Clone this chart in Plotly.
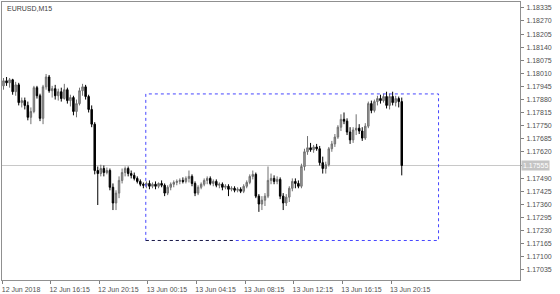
import plotly.graph_objects as go

# ---- data (EURUSD M15) ----
opens = [1.17948, 1.17973, 1.17963, 1.17978, 1.17919, 1.17953, 1.17865, 1.17875, 1.17851, 1.17792,
         1.17821, 1.17939, 1.17899, 1.17787, 1.17943, 1.17992, 1.17924, 1.17934, 1.17899, 1.17919,
         1.17885, 1.17929, 1.17875, 1.17890, 1.17821, 1.17860, 1.17924, 1.17943, 1.17895, 1.17831,
         1.17758, 1.17528, 1.17513, 1.17538, 1.17518, 1.17528, 1.17445, 1.17367, 1.17416, 1.17479,
         1.17518, 1.17538, 1.17513, 1.17504, 1.17489, 1.17474, 1.17460, 1.17455, 1.17464, 1.17450,
         1.17460, 1.17450, 1.17464, 1.17455, 1.17416, 1.17445, 1.17460, 1.17469, 1.17474, 1.17479,
         1.17474, 1.17489, 1.17499, 1.17464, 1.17416, 1.17445, 1.17460, 1.17479, 1.17489, 1.17464,
         1.17474, 1.17455, 1.17460, 1.17445, 1.17450, 1.17435, 1.17440, 1.17430, 1.17435, 1.17425,
         1.17450, 1.17469, 1.17499, 1.17509, 1.17401, 1.17362, 1.17381, 1.17401, 1.17479, 1.17489,
         1.17474, 1.17484, 1.17401, 1.17367, 1.17396, 1.17440, 1.17474, 1.17464, 1.17450, 1.17548,
         1.17621, 1.17641, 1.17631, 1.17645, 1.17636, 1.17567, 1.17538, 1.17557, 1.17636, 1.17660,
         1.17694, 1.17743, 1.17782, 1.17773, 1.17719, 1.17680, 1.17729, 1.17738, 1.17724, 1.17689,
         1.17748, 1.17860, 1.17826, 1.17870, 1.17885, 1.17875, 1.17895, 1.17851, 1.17895, 1.17865,
         1.17885, 1.17870]
highs = [1.17987, 1.17992, 1.17987, 1.17983, 1.17968, 1.17963, 1.17890, 1.17890, 1.17870, 1.17841,
         1.17948, 1.17948, 1.17909, 1.17953, 1.18007, 1.18002, 1.17948, 1.17953, 1.17934, 1.17939,
         1.17958, 1.17939, 1.17904, 1.17899, 1.17880, 1.17939, 1.17958, 1.17953, 1.17904, 1.17851,
         1.17768, 1.17548, 1.17557, 1.17553, 1.17543, 1.17538, 1.17464, 1.17430, 1.17499, 1.17538,
         1.17548, 1.17548, 1.17528, 1.17518, 1.17499, 1.17484, 1.17469, 1.17474, 1.17479, 1.17469,
         1.17474, 1.17469, 1.17479, 1.17464, 1.17455, 1.17469, 1.17479, 1.17484, 1.17489, 1.17494,
         1.17499, 1.17528, 1.17509, 1.17474, 1.17455, 1.17469, 1.17489, 1.17499, 1.17499, 1.17484,
         1.17484, 1.17469, 1.17469, 1.17460, 1.17460, 1.17450, 1.17450, 1.17445, 1.17445, 1.17460,
         1.17479, 1.17509, 1.17528, 1.17518, 1.17411, 1.17401, 1.17416, 1.17548, 1.17513, 1.17504,
         1.17499, 1.17494, 1.17416, 1.17411, 1.17450, 1.17489, 1.17489, 1.17479, 1.17562, 1.17636,
         1.17699, 1.17665, 1.17655, 1.17660, 1.17650, 1.17597, 1.17572, 1.17645, 1.17675, 1.17709,
         1.17753, 1.17807, 1.17816, 1.17787, 1.17743, 1.17743, 1.17807, 1.17758, 1.17743, 1.17763,
         1.17870, 1.17875, 1.17880, 1.17899, 1.17904, 1.17909, 1.17919, 1.17909, 1.17919, 1.17899,
         1.17895, 1.17890]
lows = [1.17929, 1.17948, 1.17939, 1.17904, 1.17899, 1.17851, 1.17841, 1.17831, 1.17777, 1.17758,
        1.17812, 1.17885, 1.17773, 1.17758, 1.17929, 1.17914, 1.17890, 1.17880, 1.17875, 1.17870,
        1.17880, 1.17860, 1.17846, 1.17802, 1.17792, 1.17851, 1.17899, 1.17880, 1.17816, 1.17743,
        1.17509, 1.17357, 1.17499, 1.17499, 1.17509, 1.17430, 1.17332, 1.17332, 1.17391, 1.17464,
        1.17499, 1.17499, 1.17489, 1.17479, 1.17464, 1.17450, 1.17440, 1.17440, 1.17435, 1.17440,
        1.17435, 1.17440, 1.17445, 1.17401, 1.17406, 1.17430, 1.17445, 1.17455, 1.17460, 1.17464,
        1.17464, 1.17469, 1.17450, 1.17401, 1.17406, 1.17435, 1.17450, 1.17460, 1.17455, 1.17450,
        1.17445, 1.17440, 1.17430, 1.17435, 1.17401, 1.17425, 1.17420, 1.17420, 1.17416, 1.17416,
        1.17440, 1.17460, 1.17484, 1.17391, 1.17323, 1.17332, 1.17352, 1.17391, 1.17460, 1.17460,
        1.17460, 1.17386, 1.17332, 1.17352, 1.17372, 1.17425, 1.17440, 1.17440, 1.17440, 1.17528,
        1.17606, 1.17621, 1.17616, 1.17626, 1.17553, 1.17513, 1.17513, 1.17548, 1.17621, 1.17645,
        1.17685, 1.17724, 1.17758, 1.17704, 1.17660, 1.17665, 1.17704, 1.17709, 1.17675, 1.17680,
        1.17738, 1.17812, 1.17816, 1.17851, 1.17860, 1.17865, 1.17836, 1.17831, 1.17851, 1.17846,
        1.17841, 1.17504]
closes = [1.17973, 1.17963, 1.17978, 1.17919, 1.17953, 1.17865, 1.17875, 1.17851, 1.17792, 1.17821,
          1.17939, 1.17899, 1.17787, 1.17943, 1.17992, 1.17924, 1.17934, 1.17899, 1.17919, 1.17885,
          1.17929, 1.17875, 1.17890, 1.17821, 1.17860, 1.17924, 1.17943, 1.17895, 1.17831, 1.17758,
          1.17528, 1.17513, 1.17538, 1.17518, 1.17528, 1.17445, 1.17367, 1.17416, 1.17479, 1.17518,
          1.17538, 1.17513, 1.17504, 1.17489, 1.17474, 1.17460, 1.17455, 1.17464, 1.17450, 1.17460,
          1.17450, 1.17464, 1.17455, 1.17416, 1.17445, 1.17460, 1.17469, 1.17474, 1.17479, 1.17474,
          1.17489, 1.17499, 1.17464, 1.17416, 1.17445, 1.17460, 1.17479, 1.17489, 1.17464, 1.17474,
          1.17455, 1.17460, 1.17445, 1.17450, 1.17435, 1.17440, 1.17430, 1.17435, 1.17425, 1.17450,
          1.17469, 1.17499, 1.17509, 1.17401, 1.17362, 1.17381, 1.17401, 1.17479, 1.17489, 1.17474,
          1.17484, 1.17401, 1.17367, 1.17396, 1.17440, 1.17474, 1.17464, 1.17450, 1.17548, 1.17621,
          1.17641, 1.17631, 1.17645, 1.17636, 1.17567, 1.17538, 1.17557, 1.17636, 1.17660, 1.17694,
          1.17743, 1.17782, 1.17773, 1.17719, 1.17680, 1.17729, 1.17738, 1.17724, 1.17689, 1.17748,
          1.17860, 1.17826, 1.17870, 1.17885, 1.17875, 1.17895, 1.17851, 1.17895, 1.17865, 1.17885,
          1.17870, 1.17553]
bar_index = list(range(len(closes)))

time_tick_bars = [0, 16, 32, 48, 64, 80, 96, 112, 128]
time_tick_labels = ["12 Jun 2018", "12 Jun 16:15", "12 Jun 20:15", "13 Jun 00:15", "13 Jun 04:15",
                    "13 Jun 08:15", "13 Jun 12:15", "13 Jun 16:15", "13 Jun 20:15"]
price_ticks = [1.18335, 1.18270, 1.18205, 1.18140, 1.18075, 1.18010, 1.17945, 1.17880, 1.17815,
               1.17750, 1.17685, 1.17620, 1.17555, 1.17490, 1.17425, 1.17360, 1.17295, 1.17230,
               1.17165, 1.17100, 1.17035]
current_price = 1.17553
current_price_label = "1.17555"
rect_bars = [46.8, 143.1]
rect_prices = [1.17181, 1.17908]
rect_dark_bottom_end = 76.2
symbol_title = "EURUSD,M15"

# ---- figure ----
FONT = "Liberation Sans"
fig = go.Figure()
fig.add_trace(go.Candlestick(
    x=bar_index, open=opens, high=highs, low=lows, close=closes,
    increasing=dict(line=dict(color="#707070", width=1), fillcolor="#a0a0a0"),
    decreasing=dict(line=dict(color="#000000", width=1), fillcolor="#000000"),
    whiskerwidth=0, showlegend=False, hoverinfo="skip",
))

shapes = [
    dict(type="line", xref="paper", x0=0, x1=1, yref="y", y0=current_price, y1=current_price,
         line=dict(color="#c8c8c8", width=1), layer="below"),
    dict(type="rect", xref="x", yref="y", x0=rect_bars[0], x1=rect_bars[1],
         y0=rect_prices[0], y1=rect_prices[1],
         line=dict(color="rgb(70,70,255)", width=1, dash="dot")),
    dict(type="line", xref="x", yref="y", x0=rect_bars[0], x1=rect_dark_bottom_end,
         y0=rect_prices[0], y1=rect_prices[0],
         line=dict(color="#202040", width=1, dash="dot")),
]

annotations = [
    dict(text=symbol_title, xref="paper", yref="paper", x=0, y=1, xanchor="left", yanchor="top",
         xshift=3, yshift=-1, showarrow=False, font=dict(family=FONT, size=7, color="#404040")),
    dict(text=current_price_label, xref="paper", yref="y", x=1, y=current_price,
         xanchor="left", yanchor="middle", showarrow=False, bgcolor="#c4c4c4",
         borderpad=1, xshift=1, font=dict(family=FONT, size=7, color="#ffffff")),
]

# the price tag covers the regular tick label at the current price level
y_ticktext = ["" if abs(p - current_price) < 0.0003 else f"{p:.5f}" for p in price_ticks]

fig.update_layout(
    width=560, height=294,
    margin=dict(l=2, r=40, t=1, b=11),
    paper_bgcolor="white", plot_bgcolor="white",
    shapes=shapes, annotations=annotations,
    showlegend=False,
    xaxis=dict(
        range=[-0.5, -0.5 + 518 / 3.04],
        rangeslider=dict(visible=False),
        tickmode="array",
        tickvals=[b - 0.5 for b in time_tick_bars],
        ticktext=time_tick_labels,
        ticks="outside", ticklen=3, tickcolor="#808080",
        tickfont=dict(family=FONT, size=7, color="#505050"),
        ticklabelshift=19, ticklabelstandoff=0,
        showgrid=False, zeroline=False,
        showline=True, linecolor="#909090", linewidth=1, mirror=True,
    ),
    yaxis=dict(
        side="right",
        range=[1.16985, 1.18364],
        tickmode="array",
        tickvals=price_ticks,
        ticktext=y_ticktext,
        ticks="outside", ticklen=3, tickcolor="#808080",
        tickfont=dict(family=FONT, size=7, color="#505050"),
        ticklabelstandoff=1,
        showgrid=False, zeroline=False,
        showline=True, linecolor="#909090", linewidth=1, mirror=True,
    ),
)

fig.write_html("out.html")
